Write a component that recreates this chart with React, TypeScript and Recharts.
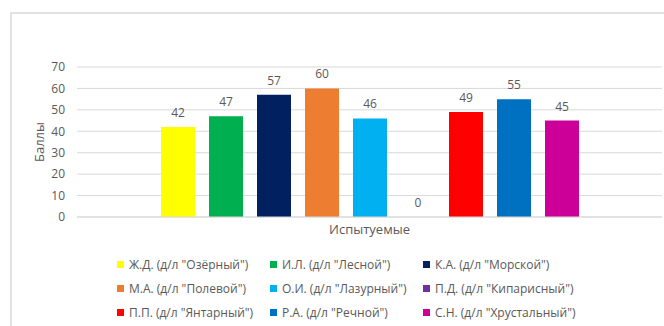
import React from 'react';
import { BarChart, Bar, XAxis, YAxis, CartesianGrid, LabelList } from 'recharts';

const categories = ['Испытуемые'];
const participants = [
  'Ж.Д. (д/л "Озёрный")',
  'И.Л. (д/л "Лесной")',
  'К.А. (д/л "Морской")',
  'М.А. (д/л "Полевой")',
  'О.И. (д/л "Лазурный")',
  'П.Д. (д/л "Кипарисный")',
  'П.П. (д/л "Янтарный")',
  'Р.А. (д/л "Речной")',
  'С.Н. (д/л "Хрустальный")'
];
const scores = [42, 47, 57, 60, 46, 0, 49, 55, 45];
const colors = ['#FFFF00', '#00B050', '#002060', '#ED7D31', '#00B0F0', '#7030A0', '#FF0000', '#0070C0', '#CC0099'];
const yTicks = [0, 10, 20, 30, 40, 50, 60, 70];

const FONT = "'Open Sans', 'Liberation Sans', sans-serif";
const TEXT = '#595959';

const data = categories.map((name) => {
  const row: Record<string, string | number> = { name };
  scores.forEach((v, i) => {
    row[`s${i}`] = v;
  });
  return row;
});

const YTitle = ({ viewBox }: any) => {
  const cx = viewBox.x + 39;
  const cy = viewBox.y + viewBox.height / 2;
  return (
    <text x={cx} y={cy} transform={`rotate(-90, ${cx}, ${cy})`} textAnchor="middle" dominantBaseline="central" fill={TEXT} fontSize={13} fontFamily={FONT}>
      Баллы
    </text>
  );
};

export default function App() {
  return (
    <div style={{ position: 'absolute', left: 0, top: 0, width: 664, height: 326, background: '#fff', overflow: 'hidden' }}>
      {/* chart frame, cropped on the right and bottom */}
      <div style={{ position: 'absolute', left: 10, top: 12, width: 700, height: 400, borderTop: '2px solid #E2E2E2', borderLeft: '2px solid #E2E2E2' }} />
      <div style={{ position: 'absolute', left: 0, top: 0 }}>
        <BarChart width={664} height={326} data={data} margin={{ top: 67, right: 2, left: 0, bottom: 79 }} barSize={34} barGap={14}>
          <CartesianGrid horizontal vertical={false} stroke="#D9D9D9" />
          <XAxis
            dataKey="name"
            tick={false}
            tickLine={false}
            axisLine={{ stroke: '#D9D9D9' }}
            height={30}
            label={{ value: 'Испытуемые', position: 'insideTop', offset: 8, fill: TEXT, fontSize: 13, fontFamily: FONT }}
          />
          <YAxis
            width={77}
            domain={[0, 70]}
            ticks={yTicks}
            interval={0}
            axisLine={false}
            tickLine={false}
            tickSize={0}
            tickMargin={12}
            tick={{ fill: TEXT, fontSize: 12, fontFamily: FONT }}
            label={<YTitle />}
          />
          {participants.map((p, i) => (
            <Bar key={p} dataKey={`s${i}`} name={p} fill={colors[i]} minPointSize={0.01} isAnimationActive={false}>
              <LabelList dataKey={`s${i}`} position="top" offset={10} fill={TEXT} fontSize={12} fontFamily={FONT} />
            </Bar>
          ))}
        </BarChart>
      </div>
      {/* legend, three columns */}
      <div
        style={{
          position: 'absolute',
          left: 117,
          top: 252,
          display: 'grid',
          gridTemplateColumns: '153px 153px 160px',
          gridAutoRows: '24px',
          fontFamily: FONT,
          fontSize: 12,
          color: TEXT
        }}
      >
        {participants.map((p, i) => (
          <div key={p} style={{ display: 'flex', alignItems: 'center', whiteSpace: 'nowrap' }}>
            <span style={{ width: 7, height: 7, background: colors[i], marginRight: 5, flex: 'none' }} />
            {p}
          </div>
        ))}
      </div>
    </div>
  );
}
